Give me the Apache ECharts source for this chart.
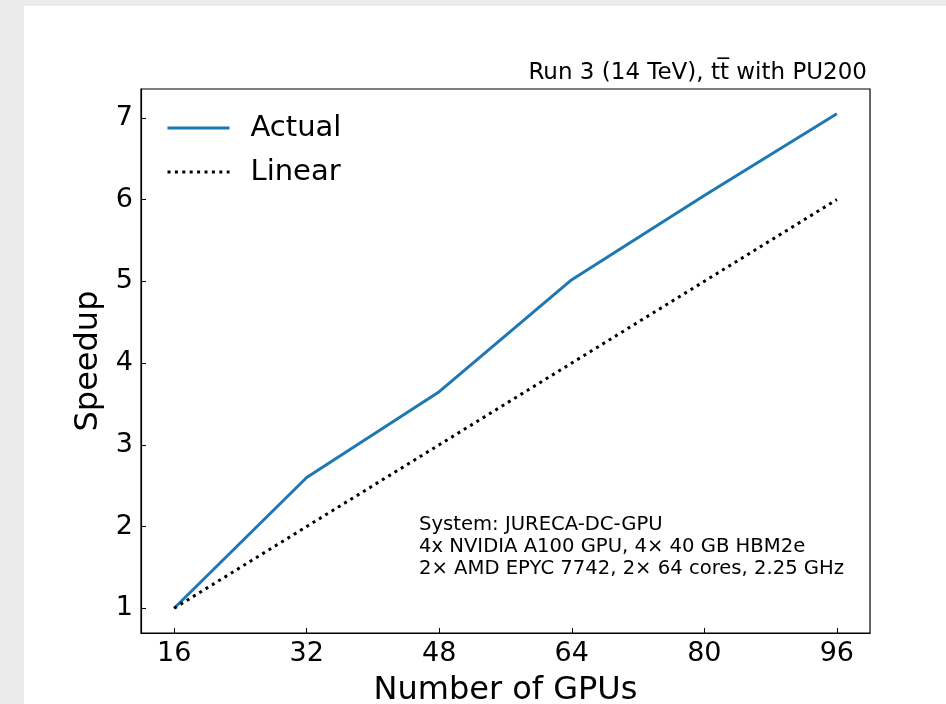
<!DOCTYPE html>
<html>
<head>
<meta charset="utf-8">
<script src="https://cdn.jsdelivr.net/npm/echarts@6/dist/echarts.min.js"></script>
<style>
html,body{margin:0;padding:0;background:#ebebeb;}
#wrap{position:absolute;left:24px;top:6px;width:922px;height:698px;background:#fff;}
#c{position:absolute;left:0;top:0;width:946px;height:704px;}
</style>
</head>
<body>
<div id="wrap"></div>
<div id="c"></div>
<script>
const gpus = [16, 32, 48, 64, 80, 96];
const actual = [1.0, 2.6, 3.65, 5.02, 6.05, 7.05];
const linear = [1, 2, 3, 4, 5, 6];
const xTicks = [16, 32, 48, 64, 80, 96];
const yTicks = [1, 2, 3, 4, 5, 6, 7];
const titleText = 'Run 3 (14 TeV), tt\u0305 with PU200';
const noteLines = ['System: JURECA-DC-GPU', '4x NVIDIA A100 GPU, 4\u00d7 40 GB HBM2e', '2\u00d7 AMD EPYC 7742, 2\u00d7 64 cores, 2.25 GHz'];

const FONT = 'DejaVu Sans';
const chart = echarts.init(document.getElementById('c'), null, {renderer: 'canvas'});
const pair = (xs, ys) => xs.map((x, i) => [x, ys[i]]);

chart.setOption({
  backgroundColor: 'transparent',
  animation: false,
  textStyle: {fontFamily: FONT, color: '#000'},
  grid: {left: 141, right: 76, top: 89, bottom: 71, show: true, borderColor: '#000', borderWidth: 1.2,
         containLabel: false, outerBoundsMode: 'none'},
  xAxis: {
    type: 'value', min: 12, max: 100,
    name: 'Number of GPUs', nameLocation: 'middle', nameGap: 42,
    nameTextStyle: {fontFamily: FONT, fontSize: 32, color: '#000'},
    axisLine: {show: true, lineStyle: {color: '#000', width: 1.2}},
    axisTick: {show: true, inside: true, length: 5, customValues: xTicks, lineStyle: {color: '#000', width: 1}},
    axisLabel: {customValues: xTicks, fontFamily: FONT, fontSize: 27, color: '#000', margin: 7},
    splitLine: {show: false}
  },
  yAxis: {
    type: 'value', min: 0.6975, max: 7.3525,
    name: 'Speedup', nameLocation: 'middle', nameGap: 30, nameRotate: 90,
    nameTextStyle: {fontFamily: FONT, fontSize: 32, color: '#000'},
    axisLine: {show: true, lineStyle: {color: '#000', width: 1.2}},
    axisTick: {show: true, inside: true, length: 5, customValues: yTicks, lineStyle: {color: '#000', width: 1}},
    axisLabel: {customValues: yTicks, fontFamily: FONT, fontSize: 27, color: '#000', margin: 8},
    splitLine: {show: false}
  },
  legend: {
    orient: 'vertical', left: 161, top: 108,
    itemWidth: 62, itemHeight: 14, itemGap: 14,
    itemStyle: {opacity: 0, borderWidth: 0},
    lineStyle: {width: 3},
    textStyle: {fontFamily: FONT, fontSize: 29, lineHeight: 30, color: '#000', padding: [0, 0, 0, 16]},
    data: ['Actual', 'Linear']
  },
  series: [
    {name: 'Actual', type: 'line', data: pair(gpus, actual), symbol: 'none',
     lineStyle: {color: '#1f77b4', width: 3}, itemStyle: {color: '#1f77b4'}},
    {name: 'Linear', type: 'line', data: pair(gpus, linear), symbol: 'none',
     lineStyle: {color: '#000', width: 3, type: [3, 4.4]}, itemStyle: {color: '#000'}}
  ],
  graphic: [
    {type: 'text', right: 946 - 867, top: 62,
     style: {text: titleText, fontFamily: FONT, fontSize: 23, fill: '#000'}},
    {type: 'text', left: 419, top: 514,
     style: {text: noteLines.join('\n'), fontFamily: FONT, fontSize: 19.6, lineHeight: 22, fill: '#000'}}
  ]
});
</script>
</body>
</html>
